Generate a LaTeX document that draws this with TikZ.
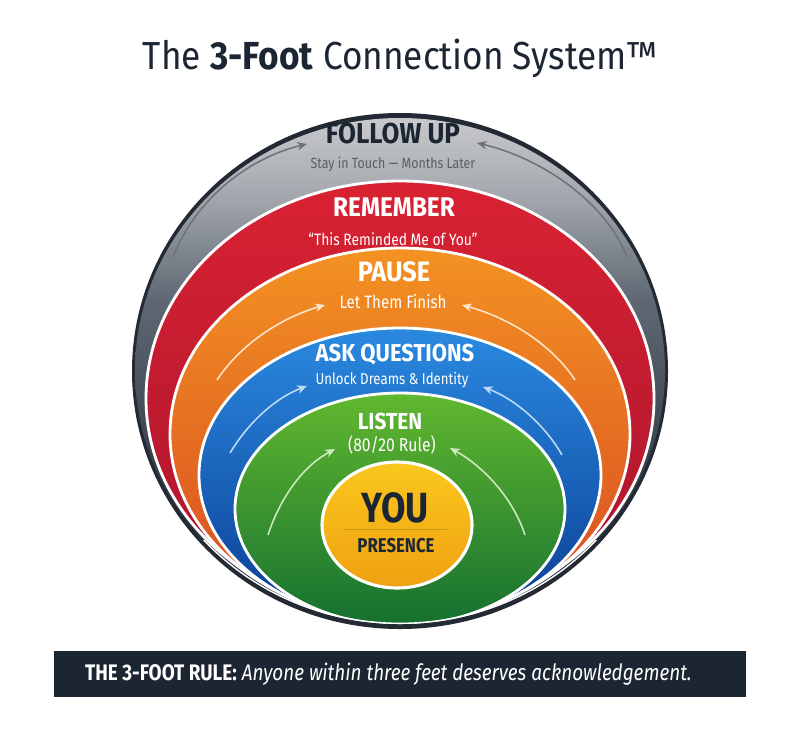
\documentclass[tikz,border=0pt]{standalone}
\usepackage{fontspec}
\setmainfont{Fira Sans}
\newfontfamily\condfont[FakeStretch=0.84]{Fira Sans}
\newfontfamily\headfont[FakeStretch=0.9]{Fira Sans}
\newfontfamily\titlefont[FakeStretch=0.9]{Fira Sans}
\usetikzlibrary{arrows.meta}

\definecolor{navy}{HTML}{1C2633}
\definecolor{ringdark}{HTML}{232A33}
\definecolor{ringdeep}{HTML}{3A434E}
\definecolor{ringmid}{HTML}{5E6772}
\definecolor{ringsoft}{HTML}{A2A6AC}
\definecolor{ringlight}{HTML}{C8C9CC}
\definecolor{redtop}{HTML}{D92232}
\definecolor{redmid}{HTML}{C21A33}
\definecolor{redbot}{HTML}{A8142E}
\definecolor{orangetop}{HTML}{F39222}
\definecolor{orangemid}{HTML}{E8622A}
\definecolor{orangebot}{HTML}{D84A22}
\definecolor{bluetop}{HTML}{2A8AE0}
\definecolor{bluemid}{HTML}{1260C0}
\definecolor{bluebot}{HTML}{0B3D95}
\definecolor{greentop}{HTML}{62B82F}
\definecolor{greenmid}{HTML}{2A9030}
\definecolor{greenbot}{HTML}{157030}
\definecolor{youtop}{HTML}{F9C81E}
\definecolor{youmid}{HTML}{FFDC2E}
\definecolor{youbot}{HTML}{F0A010}
\definecolor{youline}{HTML}{C99A10}
\definecolor{subgray}{HTML}{5A5F66}
\definecolor{arrowgray}{HTML}{6E737B}

\pgfdeclareverticalshading{grayring}{100bp}{color(0bp)=(ringdark); color(25bp)=(ringdark);
  color(42bp)=(ringdeep); color(57bp)=(ringmid); color(67bp)=(ringsoft); color(75bp)=(ringlight); color(100bp)=(ringlight)}

\begin{document}
\begin{tikzpicture}[x=0.025cm,y=-0.025cm,
    band/.style={draw=white,line width=2pt},
    head/.style={font=\headfont\bfseries\fontsize{#1}{#1}\selectfont,text=white,inner sep=0pt},
    sub/.style={font=\condfont\fontsize{#1}{#1}\selectfont,text=white,inner sep=0pt},
    hint/.style={-{Stealth[length=7pt,width=6pt]},line width=1.1pt}]
  \useasboundingbox (0,0) rectangle (800,739);

  % title
  \node[font=\titlefont\fontsize{27.8}{30}\selectfont,text=navy] (title) at (400,58)
    {The \textbf{3-Foot} Connection System™};

  % outer ring
  \fill[ringdark] (400,371) ellipse [x radius=268,y radius=258];
  \shade[shading=grayring] (400,371) ellipse [x radius=265,y radius=253];

  % nested bands
  \begin{scope}
    \clip (400,371) ellipse [x radius=265,y radius=253];
    \shade[band,top color=redtop,middle color=redmid,bottom color=redbot]
      (400,398.5) ellipse [x radius=254,y radius=217.5];
    \shade[band,top color=orangetop,middle color=orangemid,bottom color=orangebot]
      (400,434) ellipse [x radius=230,y radius=186];
    \shade[band,top color=bluetop,middle color=bluemid,bottom color=bluebot]
      (400,475) ellipse [x radius=201,y radius=147];
    \shade[band,top color=greentop,middle color=greenmid,bottom color=greenbot]
      (400,509) ellipse [x radius=165,y radius=116];
    \begin{scope}
      \clip (0,540) rectangle (800,739);
      \draw[white,line width=2pt] (400,371) ellipse [x radius=265,y radius=253];
    \end{scope}
  \end{scope}

  % centre
  \shade[draw=white,line width=2.2pt,top color=youtop,middle color=youmid,bottom color=youbot]
    (397,525) ellipse [x radius=75,y radius=63];
  \node[font=\condfont\bfseries\fontsize{30}{30}\selectfont,text=navy,inner sep=0pt] (you) at (395,508) {YOU};
  \node[font=\condfont\bfseries\fontsize{14.2}{15}\selectfont,text=navy,inner sep=0pt] (presence) at (396,546) {PRESENCE};
  \coordinate (div-l) at (343,529);
  \coordinate (div-r) at (447,529);
  \draw[youline,line width=0.6pt] (div-l) -- (div-r);

  % labels
  \node[head=20.5,text=navy] (followup) at (393,134) {FOLLOW UP};
  \node[sub=10.5,text=subgray] (followsub) at (393,164) {Stay in Touch — Months Later};
  \node[head=19.2] (remember) at (394,207) {REMEMBER};
  \node[sub=11.7] (remembersub) at (393,239) {“This Reminded Me of You”};
  \node[head=20] (pause) at (394,272) {PAUSE};
  \node[sub=12.8] (pausesub) at (393,302) {Let Them Finish};
  \node[head=17.4] (ask) at (395,355) {ASK QUESTIONS};
  \node[sub=11.2] (asksub) at (392,380) {Unlock Dreams \& Identity};
  \node[head=16.5] (listen) at (390,421) {LISTEN};
  \node[sub=13.3] (listensub) at (392,445) {(80/20 Rule)};

  % arrows
  \coordinate (fu-l0) at (173,257);  \coordinate (fu-l1) at (307,144);
  \coordinate (fu-r0) at (627,257);  \coordinate (fu-r1) at (477,143);
  \coordinate (pa-l0) at (217,380);  \coordinate (pa-l1) at (325,305);
  \coordinate (pa-r0) at (575,380);  \coordinate (pa-r1) at (462,305);
  \coordinate (aq-l0) at (230,453);  \coordinate (aq-l1) at (307,386);
  \coordinate (aq-r0) at (562,455);  \coordinate (aq-r1) at (483,387);
  \coordinate (li-l0) at (268,535);  \coordinate (li-l1) at (335,449);
  \coordinate (li-r0) at (525,535);  \coordinate (li-r1) at (450,448);
  \draw[hint,arrowgray] (fu-l0) .. controls (195,200) and (248,158) .. (fu-l1);
  \draw[hint,arrowgray] (fu-r0) .. controls (605,200) and (538,157) .. (fu-r1);
  \draw[hint,white!80!orange] (pa-l0) .. controls (240,345) and (280,318) .. (pa-l1);
  \draw[hint,white!80!orange] (pa-r0) .. controls (552,345) and (510,318) .. (pa-r1);
  \draw[hint,white!70!bluetop] (aq-l0) .. controls (248,423) and (275,398) .. (aq-l1);
  \draw[hint,white!70!bluetop] (aq-r0) .. controls (545,425) and (515,399) .. (aq-r1);
  \draw[hint,white!70!greentop] (li-l0) .. controls (280,498) and (303,466) .. (li-l1);
  \draw[hint,white!70!greentop] (li-r0) .. controls (513,498) and (483,466) .. (li-r1);

  % rule banner
  \node[fill=navy,minimum width=17.3cm,minimum height=1.13cm,inner sep=0pt] (rule) at (400,674) {};
  \node[anchor=west,inner sep=0pt,font=\condfont\fontsize{16}{17}\selectfont,text=white]
    (ruletext) at ([xshift=0.78cm]rule.west)
    {\textbf{THE 3-FOOT RULE:} \textit{Anyone within three feet deserves acknowledgement.}};
\end{tikzpicture}
\end{document}
